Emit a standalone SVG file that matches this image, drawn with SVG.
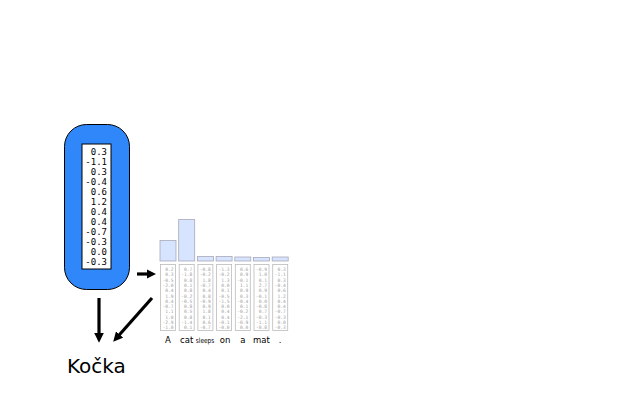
<svg xmlns="http://www.w3.org/2000/svg" width="640" height="400" viewBox="0 0 640 400">
<style>
.vec{font-family:"DejaVu Sans Mono","Liberation Mono",monospace;font-size:9px;fill:#000;text-anchor:end}
.col{fill:#fff;stroke:#bbbbbb;stroke-width:0.8}
.ct{font-family:"DejaVu Sans Mono","Liberation Mono",monospace;font-size:4.6px;fill:#a0a0a0;text-anchor:end}
.bar{fill:#d6e4ff;stroke:#a8a8b8;stroke-width:0.8}
.lab{font-family:"DejaVu Sans","Liberation Sans",sans-serif;font-size:8.5px;fill:#000;text-anchor:middle}
.lab.small{font-size:7.2px}
.arr{stroke:#000;stroke-width:3.2;fill:none;marker-end:url(#ah)}
</style>
<defs>
<marker id="ah" viewBox="0 0 10 10" refX="2" refY="5" markerWidth="3" markerHeight="3" orient="auto" markerUnits="strokeWidth">
<path d="M0,0 L10,5 L0,10 z" fill="#000"/>
</marker>
</defs>
<rect width="640" height="400" fill="#fff"/>
<g id="context-vector">
<rect x="64.5" y="124.5" width="65" height="165" rx="22" ry="22" fill="#2f87f9" stroke="#000" stroke-width="1"/>
<rect x="82" y="144" width="29" height="125" fill="#fff" stroke="#000" stroke-width="1"/>
<text class="vec" x="107" y="155">0.3</text>
<text class="vec" x="107" y="165">-1.1</text>
<text class="vec" x="107" y="175">0.3</text>
<text class="vec" x="107" y="185">-0.4</text>
<text class="vec" x="107" y="195">0.6</text>
<text class="vec" x="107" y="205">1.2</text>
<text class="vec" x="107" y="215">0.4</text>
<text class="vec" x="107" y="225">0.4</text>
<text class="vec" x="107" y="235">-0.7</text>
<text class="vec" x="107" y="245">-0.3</text>
<text class="vec" x="107" y="255">0.0</text>
<text class="vec" x="107" y="265">-0.3</text>
</g>
<g id="attention-bars">
<rect class="bar" x="160" y="240.5" width="16" height="20.5"/>
<rect class="bar" x="178.7" y="219.5" width="16" height="41.5"/>
<rect class="bar" x="197.4" y="256.5" width="16" height="4.5"/>
<rect class="bar" x="216.1" y="256.5" width="16" height="4.5"/>
<rect class="bar" x="234.8" y="257" width="16" height="4"/>
<rect class="bar" x="253.5" y="257.5" width="16" height="3.5"/>
<rect class="bar" x="272.2" y="257" width="16" height="4"/>
</g>
<g id="word-vectors">
<g id="w-A">
<rect class="col" x="160.5" y="264.5" width="15" height="66"/>
<text class="ct"><tspan x="173.5" y="271">0.2</tspan><tspan x="173.5" y="276.3">0.3</tspan><tspan x="173.5" y="281.6">-0.5</tspan><tspan x="173.5" y="286.9">-2.0</tspan><tspan x="173.5" y="292.2">0.4</tspan><tspan x="173.5" y="297.5">1.9</tspan><tspan x="173.5" y="302.8">0.4</tspan><tspan x="173.5" y="308.1">-0.7</tspan><tspan x="173.5" y="313.4">1.1</tspan><tspan x="173.5" y="318.7">1.0</tspan><tspan x="173.5" y="324">-2.9</tspan><tspan x="173.5" y="329.3">-1.0</tspan></text>
</g>
<g id="w-cat">
<rect class="col" x="179.2" y="264.5" width="15" height="66"/>
<text class="ct"><tspan x="192.2" y="271">0.7</tspan><tspan x="192.2" y="276.3">-1.8</tspan><tspan x="192.2" y="281.6">0.8</tspan><tspan x="192.2" y="286.9">0.1</tspan><tspan x="192.2" y="292.2">0.8</tspan><tspan x="192.2" y="297.5">-0.2</tspan><tspan x="192.2" y="302.8">-0.5</tspan><tspan x="192.2" y="308.1">0.8</tspan><tspan x="192.2" y="313.4">0.5</tspan><tspan x="192.2" y="318.7">0.8</tspan><tspan x="192.2" y="324">-1.4</tspan><tspan x="192.2" y="329.3">0.1</tspan></text>
</g>
<g id="w-sleeps">
<rect class="col" x="197.9" y="264.5" width="15" height="66"/>
<text class="ct"><tspan x="210.9" y="271">-0.8</tspan><tspan x="210.9" y="276.3">-0.2</tspan><tspan x="210.9" y="281.6">1.8</tspan><tspan x="210.9" y="286.9">-0.7</tspan><tspan x="210.9" y="292.2">0.4</tspan><tspan x="210.9" y="297.5">0.8</tspan><tspan x="210.9" y="302.8">-0.9</tspan><tspan x="210.9" y="308.1">0.9</tspan><tspan x="210.9" y="313.4">1.8</tspan><tspan x="210.9" y="318.7">0.1</tspan><tspan x="210.9" y="324">0.6</tspan><tspan x="210.9" y="329.3">-0.7</tspan></text>
</g>
<g id="w-on">
<rect class="col" x="216.6" y="264.5" width="15" height="66"/>
<text class="ct"><tspan x="229.6" y="271">-1.3</tspan><tspan x="229.6" y="276.3">-0.2</tspan><tspan x="229.6" y="281.6">1.3</tspan><tspan x="229.6" y="286.9">0.0</tspan><tspan x="229.6" y="292.2">0.1</tspan><tspan x="229.6" y="297.5">-0.5</tspan><tspan x="229.6" y="302.8">-1.5</tspan><tspan x="229.6" y="308.1">0.0</tspan><tspan x="229.6" y="313.4">0.4</tspan><tspan x="229.6" y="318.7">0.4</tspan><tspan x="229.6" y="324">-0.1</tspan><tspan x="229.6" y="329.3">-0.0</tspan></text>
</g>
<g id="w-a">
<rect class="col" x="235.3" y="264.5" width="15" height="66"/>
<text class="ct"><tspan x="248.3" y="271">0.6</tspan><tspan x="248.3" y="276.3">0.9</tspan><tspan x="248.3" y="281.6">-0.1</tspan><tspan x="248.3" y="286.9">1.1</tspan><tspan x="248.3" y="292.2">0.9</tspan><tspan x="248.3" y="297.5">0.3</tspan><tspan x="248.3" y="302.8">-0.4</tspan><tspan x="248.3" y="308.1">0.1</tspan><tspan x="248.3" y="313.4">-0.2</tspan><tspan x="248.3" y="318.7">-2.1</tspan><tspan x="248.3" y="324">-0.9</tspan><tspan x="248.3" y="329.3">0.0</tspan></text>
</g>
<g id="w-mat">
<rect class="col" x="254" y="264.5" width="15" height="66"/>
<text class="ct"><tspan x="267" y="271">-0.9</tspan><tspan x="267" y="276.3">1.0</tspan><tspan x="267" y="281.6">0.1</tspan><tspan x="267" y="286.9">2.7</tspan><tspan x="267" y="292.2">0.9</tspan><tspan x="267" y="297.5">-0.1</tspan><tspan x="267" y="302.8">0.0</tspan><tspan x="267" y="308.1">-0.8</tspan><tspan x="267" y="313.4">0.7</tspan><tspan x="267" y="318.7">-0.3</tspan><tspan x="267" y="324">-1.1</tspan><tspan x="267" y="329.3">-0.8</tspan></text>
</g>
<g id="w-dot">
<rect class="col" x="272.7" y="264.5" width="15" height="66"/>
<text class="ct"><tspan x="285.7" y="271">0.3</tspan><tspan x="285.7" y="276.3">-1.1</tspan><tspan x="285.7" y="281.6">0.3</tspan><tspan x="285.7" y="286.9">-0.4</tspan><tspan x="285.7" y="292.2">0.6</tspan><tspan x="285.7" y="297.5">1.2</tspan><tspan x="285.7" y="302.8">0.4</tspan><tspan x="285.7" y="308.1">0.4</tspan><tspan x="285.7" y="313.4">-0.7</tspan><tspan x="285.7" y="318.7">-0.3</tspan><tspan x="285.7" y="324">0.0</tspan><tspan x="285.7" y="329.3">-0.3</tspan></text>
</g>
</g>
<g id="word-labels">
<text class="lab" x="168" y="343">A</text>
<text class="lab" x="186.7" y="343">cat</text>
<text class="lab small" x="205" y="343" textLength="18.5" lengthAdjust="spacingAndGlyphs">sleeps</text>
<text class="lab" x="225" y="343">on</text>
<text class="lab" x="242.8" y="343">a</text>
<text class="lab" x="261.5" y="343">mat</text>
<text class="lab" x="280.2" y="343">.</text>
</g>
<g id="output-word">
<text x="67" y="373" font-family="DejaVu Sans, Liberation Sans, sans-serif" font-size="20" fill="#000">Kočka</text>
</g>
<g id="connectors">
<line class="arr" x1="137" y1="274" x2="148.5" y2="274"/>
<line class="arr" x1="99" y1="298" x2="99" y2="335"/>
<line class="arr" x1="152" y1="298" x2="118.3" y2="336"/>
</g>
</svg>
